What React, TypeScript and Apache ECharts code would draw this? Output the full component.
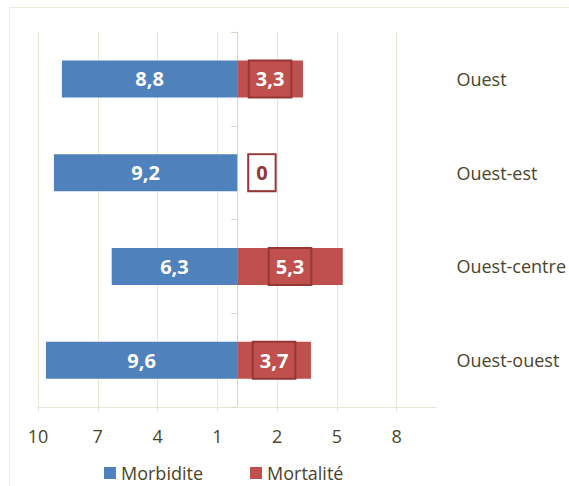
import React, { useEffect, useRef } from "react";
import * as echarts from "echarts";

const categories = ["Ouest", "Ouest-est", "Ouest-centre", "Ouest-ouest"];
const morbidite = [8.8, 9.2, 6.3, 9.6];
const mortalite = [3.3, 0, 5.3, 3.7];
const tickValues = [-10, -7, -4, -1, 2, 5, 8];

const TEXT = "#4A452A";
const GRID = "#EAE6D5";
const BLUE = "#4F81BD";
const RED = "#C0504D";
const DARKRED = "#953735";
const FONT = "'Open Sans', sans-serif";

const fmt = (v: number) => String(Math.abs(v)).replace(".", ",");

export default function App() {
  const ref = useRef<HTMLDivElement>(null);
  useEffect(() => {
    if (!ref.current) return;
    const chart = echarts.init(ref.current, null, { renderer: "svg" });
    chart.setOption({
      animation: false,
      backgroundColor: "#FFFFFF",
      textStyle: { fontFamily: FONT },
      graphic: [
        {
          type: "rect",
          shape: { x: 9.5, y: 7.5, width: 700, height: 700 },
          style: { fill: "none", stroke: "#ECEBDD", lineWidth: 1 },
          silent: true,
        },
      ],
      grid: { left: 38, right: 131, top: 32, bottom: 79, containLabel: false },
      legend: {
        top: 459,
        left: 99,
        itemWidth: 12,
        itemHeight: 12,
        itemGap: 47,
        icon: "rect",
        textStyle: { color: TEXT, fontSize: 18, fontFamily: FONT },
        data: ["Morbidite", "Mortalité"],
      },
      xAxis: {
        type: "value",
        min: -10,
        max: 10,
        interval: 3,
        axisLine: { show: true, lineStyle: { color: GRID, width: 1 } },
        axisTick: {
          show: true,
          length: 5,
          customValues: tickValues,
          lineStyle: { color: GRID },
        },
        axisLabel: {
          customValues: tickValues,
          formatter: (v: number) => fmt(v),
          color: TEXT,
          fontSize: 18,
          margin: 20,
          fontFamily: FONT,
        },
        splitLine: { show: true, lineStyle: { color: GRID, width: 1 } },
      },
      yAxis: [
        {
          type: "category",
          data: categories,
          inverse: true,
          axisLine: { show: true, onZero: true, lineStyle: { color: "#DCD6BE" } },
          axisTick: { show: true, length: 6, lineStyle: { color: "#DCD6BE" } },
          axisLabel: { show: false },
          splitLine: { show: false },
        },
        {
          type: "category",
          data: categories,
          inverse: true,
          position: "right",
          axisLine: { show: false },
          axisTick: { show: false },
          axisLabel: {
            color: TEXT,
            fontSize: 18,
            margin: 20,
            fontFamily: FONT,
          },
          splitLine: { show: false },
        },
      ],
      series: [
        {
          name: "Morbidite",
          type: "bar",
          yAxisIndex: 0,
          barWidth: 37,
          barGap: "-100%",
          itemStyle: { color: BLUE },
          label: {
            show: true,
            position: "inside",
            color: "#FFFFFF",
            fontWeight: "bold",
            fontSize: 20,
            fontFamily: FONT,
            formatter: (p: any) => fmt(p.value),
          },
          data: morbidite.map((v) => -v),
        },
        {
          name: "Mortalité",
          type: "bar",
          yAxisIndex: 0,
          barWidth: 37,
          itemStyle: { color: RED },
          label: {
            show: true,
            position: "inside",
            color: "#FFFFFF",
            fontWeight: "bold",
            fontSize: 20,
            fontFamily: FONT,
            backgroundColor: RED,
            borderColor: DARKRED,
            borderWidth: 2,
            padding: [8, 6, 7, 6],
            formatter: (p: any) => fmt(p.value),
          },
          data: mortalite.map((v) =>
            v === 0
              ? {
                  value: v,
                  label: {
                    position: "right",
                    distance: 12,
                    color: DARKRED,
                    backgroundColor: "#FFFFFF",
                    padding: [8, 7, 7, 7],
                  },
                }
              : v
          ),
        },
      ],
    });
    return () => chart.dispose();
  }, []);
  return (
    <div
      ref={ref}
      style={{ position: "fixed", left: 0, top: 0, width: 569, height: 486 }}
    />
  );
}
